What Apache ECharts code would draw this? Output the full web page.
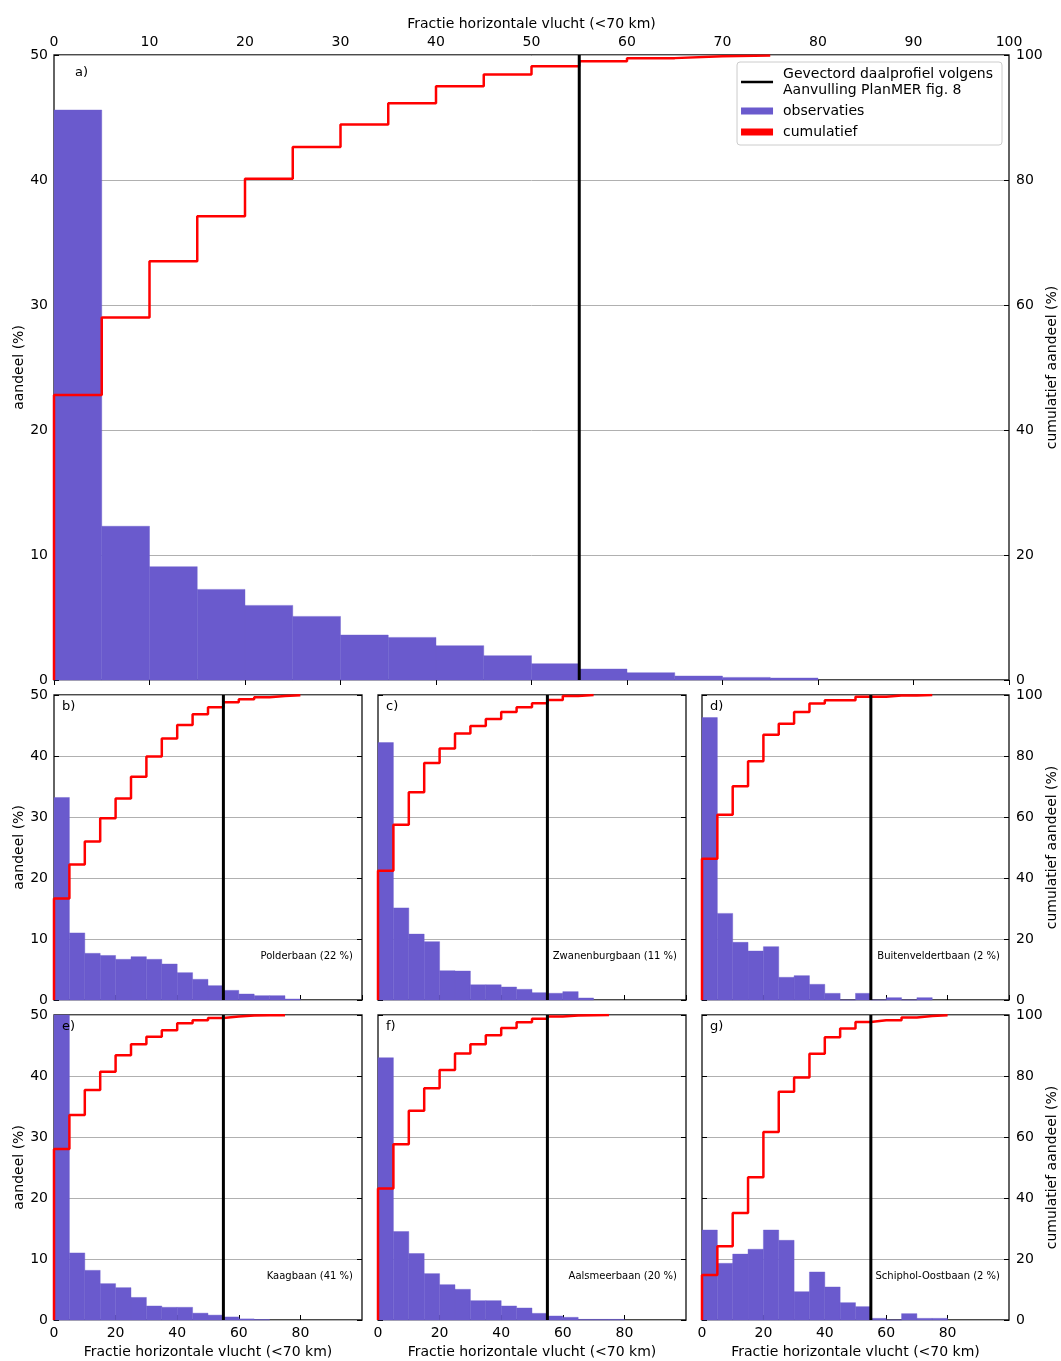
<!DOCTYPE html>
<html><head><meta charset="utf-8">
<script src="https://cdn.jsdelivr.net/npm/echarts@6/dist/echarts.min.js"></script>
<style>html,body{margin:0;padding:0;background:#fff}#c{width:1061px;height:1361px}</style>
</head><body><div id="c"></div>
<script>
// ---- data ----
const binEdges = [0,5,10,15,20,25,30,35,40,45,50,55,60,65,70,75,80,85,90,95,100];
const profileX = 55;           // Gevectord daalprofiel
const xLabel = 'Fractie horizontale vlucht (<70 km)';
const yLabelLeft = 'aandeel (%)';
const yLabelRight = 'cumulatief aandeel (%)';

const obsA = [45.6,12.3,9.07,7.25,5.97,5.09,3.6,3.41,2.75,1.95,1.31,0.88,0.59,0.32,0.21,0.16];
const cumA = [45.6,58.0,67.0,74.2,80.2,85.3,88.9,92.3,95.0,96.9,98.2,99.0,99.5,99.8,99.9];

const obsB = [33.2,11.0,7.65,7.3,6.67,7.1,6.67,5.9,4.48,3.39,2.35,1.58,0.98,0.71,0.71,0.16];
const cumB = [33.3,44.4,52.0,59.6,66.1,73.2,79.8,85.7,90.2,93.7,96.0,97.6,98.6,99.3,99.7,99.9];

const obsC = [42.2,15.1,10.8,9.56,4.8,4.75,2.5,2.5,2.13,1.75,1.2,1.1,1.37,0.33];
const cumC = [42.4,57.5,68.1,77.7,82.5,87.4,89.8,92.1,94.4,96.0,97.3,98.4,99.7,100];

const obsD = [46.3,14.2,9.45,8.03,8.74,3.72,3.99,2.57,1.09,0,1.09,0,0.38,0,0.38];
const cumD = [46.3,60.7,70.1,78.3,87.0,90.6,94.4,97.2,98.3,98.3,99.4,99.4,99.8,99.8,100];

const obsE = [56.2,11.0,8.14,5.96,5.3,3.7,2.3,2.08,2.08,1.12,0.8,0.5,0.18,0.08];
const cumE = [56.1,67.2,75.4,81.4,86.8,90.4,92.9,95.0,97.3,98.3,99.0,99.5,99.8,99.9,99.9];

const obsF = [43.0,14.5,10.9,7.6,5.79,5.03,3.17,3.17,2.3,1.97,1.09,0.66,0.44,0.1,0.1,0.1];
const cumF = [43.1,57.6,68.6,76.0,82.0,87.4,90.4,93.4,95.7,97.6,98.8,99.5,99.8,99.9,100];

const obsG = [14.75,9.29,10.8,11.6,14.75,13.06,4.64,7.87,5.41,2.84,2.19,0.27,0,1.04,0.27,0.27];
const cumG = [14.75,24.2,35.1,46.8,61.6,74.8,79.5,87.3,92.7,95.6,97.7,98.3,98.3,99.2,99.7,99.9];

const panelTags = ['a)','b)','c)','d)','e)','f)','g)'];
const runwayNames = ['', 'Polderbaan (22 %)','Zwanenburgbaan (11 %)','Buitenveldertbaan (2 %)','Kaagbaan (41 %)','Aalsmeerbaan (20 %)','Schiphol-Oostbaan (2 %)'];
const legendProfile = 'Gevectord daalprofiel volgens\nAanvulling PlanMER fig. 8';

// ---- layout ----
const FONT = 'DejaVu Sans';
const layout = [
  {left:54,  top:55,   width:955, height:625, main:true},
  {left:54,  top:695,  width:308, height:305, showL:true},
  {left:378, top:695,  width:308, height:305},
  {left:702, top:695,  width:307, height:305, showR:true},
  {left:54,  top:1015, width:308, height:305, showL:true, bottom:true},
  {left:378, top:1015, width:308, height:305, bottom:true},
  {left:702, top:1015, width:307, height:305, showR:true, bottom:true}
];
const obsAll = [obsA,obsB,obsC,obsD,obsE,obsF,obsG];
const cumAll = [cumA,cumB,cumC,cumD,cumE,cumF,cumG];

function renderBar(params, api){
  const x0 = api.value(0), x1 = api.value(1), h = api.value(2);
  const p0 = api.coord([x0, 0]);
  const p1 = api.coord([x1, h]);
  const cs = params.coordSys;
  const r = echarts.graphic.clipRectByRect(
    {x:p0[0], y:p1[1], width:p1[0]-p0[0], height:p0[1]-p1[1]},
    {x:cs.x, y:cs.y, width:cs.width, height:cs.height});
  return r && {type:'rect', shape:r, style:{fill:'#6a5acd', stroke:'#6a5acd', lineWidth:0.4}};
}

const grid=[], xAxis=[], yAxis=[], series=[], graphic=[];
const tickStyle = {color:'#000', fontSize:14, fontFamily:FONT};
layout.forEach((L,i)=>{
  grid.push({left:L.left, top:L.top, width:L.width, height:L.height, show:true,
    borderColor:'#111', borderWidth:1.3, backgroundColor:'transparent',
    containLabel:false, outerBoundsMode:'none'});
  xAxis.push({gridIndex:i, type:'value', min:0, max:100, interval: L.main?10:20,
    position: L.main?'top':'bottom',
    axisLine:{show:false},
    axisTick:{show:true, inside:true, length:5, lineStyle:{color:'#000'}},
    axisLabel:{show: !!(L.main||L.bottom), showMaxLabel: !!L.main, margin:6, ...tickStyle},
    splitLine:{show:false},
    name: (L.main||L.bottom)? xLabel : '', nameLocation:'middle', nameGap: L.main?24:25,
    nameMoveOverlap:false,
    nameTextStyle:{...tickStyle}});
  yAxis.push({gridIndex:i, type:'value', min:0, max:50, interval:10, position:'left',
    axisLine:{show:false},
    axisTick:{show:true, inside:true, length:5, lineStyle:{color:'#000'}},
    axisLabel:{show: !!(L.main||L.showL), margin:6, ...tickStyle},
    splitLine:{show:true, lineStyle:{color:'#b0b0b0', width:1}},
    name: (L.main||L.showL)? yLabelLeft : '', nameLocation:'middle', nameRotate:90, nameGap:28,
    nameMoveOverlap:false,
    nameTextStyle:{...tickStyle}});
  yAxis.push({gridIndex:i, type:'value', min:0, max:100, interval:20, position:'right',
    axisLine:{show:false},
    axisTick:{show:true, inside:true, length:5, lineStyle:{color:'#000'}},
    axisLabel:{show: !!(L.main||L.showR), margin:7, ...tickStyle},
    splitLine:{show:false},
    name: (L.main||L.showR)? yLabelRight : '', nameLocation:'middle', nameRotate:90, nameGap:36,
    nameMoveOverlap:false,
    nameTextStyle:{...tickStyle}});

  const obs = obsAll[i], cum = cumAll[i];
  series.push({type:'custom', name:'observaties', xAxisIndex:i, yAxisIndex:2*i,
    renderItem:renderBar, encode:{x:[0,1], y:2}, z:2,
    itemStyle:{color:'#6a5acd'},
    data: obs.map((v,k)=>[binEdges[k], binEdges[k+1], v])});
  const pts = [[0,0]];
  cum.forEach((c,k)=>pts.push([binEdges[k], c]));
  pts.push([binEdges[cum.length], cum[cum.length-1]]);
  series.push({type:'line', name:'cumulatief', xAxisIndex:i, yAxisIndex:2*i+1,
    step:'end', symbol:'none', z:3, lineStyle:{color:'#ff0000', width:2.5}, itemStyle:{color:'#ff0000'},
    data: pts});
  series.push({type:'line', name:'profiel', xAxisIndex:i, yAxisIndex:2*i,
    symbol:'none', z:4, lineStyle:{color:'#000', width:3}, itemStyle:{color:'#000'},
    data:[[profileX,0],[profileX,50]]});

  graphic.push({type:'text', z:100, x: L.left + (L.main?21:8), y: L.top + (L.main?18:12),
    style:{text:panelTags[i], fontSize:13, fontFamily:FONT, fill:'#000', verticalAlign:'middle', align:'left'}});
  if (runwayNames[i]) {
    graphic.push({type:'text', z:100, x: L.left + L.width - 9, y: L.top + L.height - 44,
      style:{text:runwayNames[i], fontSize:10, fontFamily:FONT, fill:'#000', verticalAlign:'middle', align:'right'}});
  }
});

const chart = echarts.init(document.getElementById('c'), null, {renderer:'canvas'});
chart.setOption({
  animation:false,
  backgroundColor:'#fff',
  textStyle:{fontFamily:FONT},
  grid, xAxis, yAxis, series, graphic,
  legend:{
    show:true, orient:'vertical', right:59, top:62, selectedMode:false,
    backgroundColor:'#fff', borderColor:'#cccccc', borderWidth:1, borderRadius:3,
    padding:[4,9,5,4], itemGap:5, itemWidth:32, itemHeight:7,
    itemStyle:{borderWidth:0},
    textStyle:{fontSize:14, color:'#000', fontFamily:FONT, lineHeight:16, padding:[0,0,0,5]},
    data:[
      {name:'profiel', icon:'path://M0,0L32,0M0,2.2L32,2.2L32,4.8L0,4.8ZM0,7L32,7', itemStyle:{color:'#000'}},
      {name:'observaties', icon:'rect', itemStyle:{color:'#6a5acd'}},
      {name:'cumulatief', icon:'rect', itemStyle:{color:'#ff0000'}}
    ],
    formatter: n => n==='profiel' ? legendProfile : n
  }
});
</script></body></html>
